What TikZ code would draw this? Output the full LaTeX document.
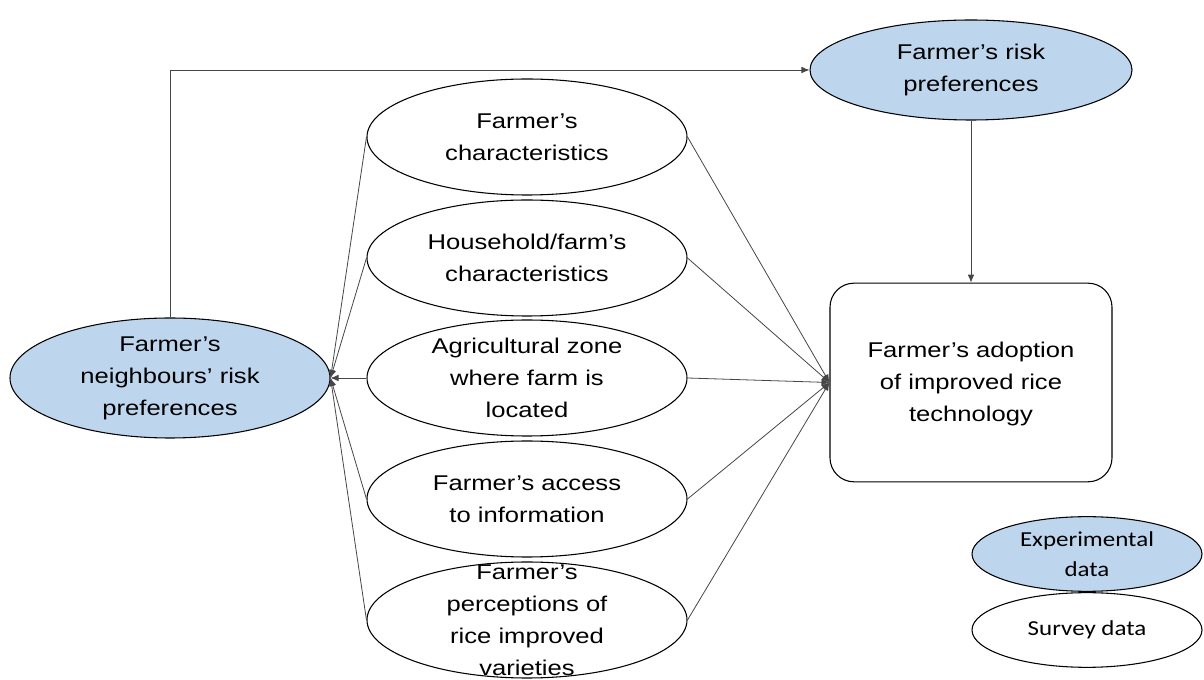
\documentclass[tikz,border=0pt]{standalone}
\usepackage{fontspec}
\setmainfont[FakeStretch=1.2]{Liberation Sans}
\newfontfamily\legfont[FakeStretch=1.17]{Carlito}
\usetikzlibrary{shapes.geometric,arrows.meta}
\definecolor{expblue}{RGB}{189,214,238}
\definecolor{linegray}{RGB}{70,70,70}
\begin{document}
\begin{tikzpicture}[x=0.75pt,y=-0.75pt,
  ell/.style={ellipse,draw=black,line width=0.8pt,inner sep=0pt},
  midell/.style={ell,minimum width=240pt,minimum height=87pt},
  blueell/.style={ell,fill=expblue},
  txt/.style={align=center,font=\fontsize{16}{24}\selectfont,inner sep=0pt},
  legtxt/.style={align=center,font=\legfont\fontsize{16}{22.5}\selectfont,inner sep=0pt},
  arr/.style={draw=linegray,line width=0.6pt,-{Latex[length=6pt,width=5pt]}},
  conn/.style={draw=linegray,line width=0.6pt}]
\useasboundingbox (0,0) rectangle (1204,680);
% nodes
\node[blueell,minimum width=240pt,minimum height=90pt] (nb) at (170,378) {};
\node[txt] at (nb) {Farmer’s\\neighbours’ risk\\preferences};
\node[blueell,minimum width=241.5pt,minimum height=75pt] (rp) at (971,70) {};
\node[txt] at (rp) {Farmer’s risk\\preferences};
\node[draw=black,line width=0.8pt,rounded corners=18pt,minimum width=211.5pt,minimum height=149pt,inner sep=0pt] (box) at (971,382.5) {};
\node[txt] at (971,384) {Farmer’s adoption\\of improved rice\\technology};
\node[midell] (e1) at (527,137) {};
\node[txt] at (e1) {Farmer’s\\characteristics};
\node[midell] (e2) at (527,258) {};
\node[txt] at (e2) {Household/farm’s\\characteristics};
\node[midell] (e3) at (527,378) {};
\node[txt] at (e3) {Agricultural zone\\where farm is\\located};
\node[midell] (e4) at (527,499) {};
\node[txt] at (e4) {Farmer’s access\\to information};
\node[midell] (e5) at (527,620) {};
\node[txt] at (e5) {Farmer’s\\perceptions of\\rice improved\\varieties};
% legend
\node[blueell,minimum width=172.5pt,minimum height=56pt] (lexp) at (1087,554) {};
\node[legtxt] at (lexp) {Experimental\\data};
\node[ell,minimum width=172.5pt,minimum height=56pt] (lsur) at (1087,630) {};
\node[legtxt] at (lsur) {Survey data};
% connectors
\draw[arr] (nb.north) |- (rp.west);
\draw[arr] (rp.south) -- (box.north);
\foreach \e in {e1,e2,e3,e4,e5}{
  \draw[arr] (\e.west) -- (nb.east);
  \draw[arr] (\e.east) -- (box.west);
}
\end{tikzpicture}
\end{document}
